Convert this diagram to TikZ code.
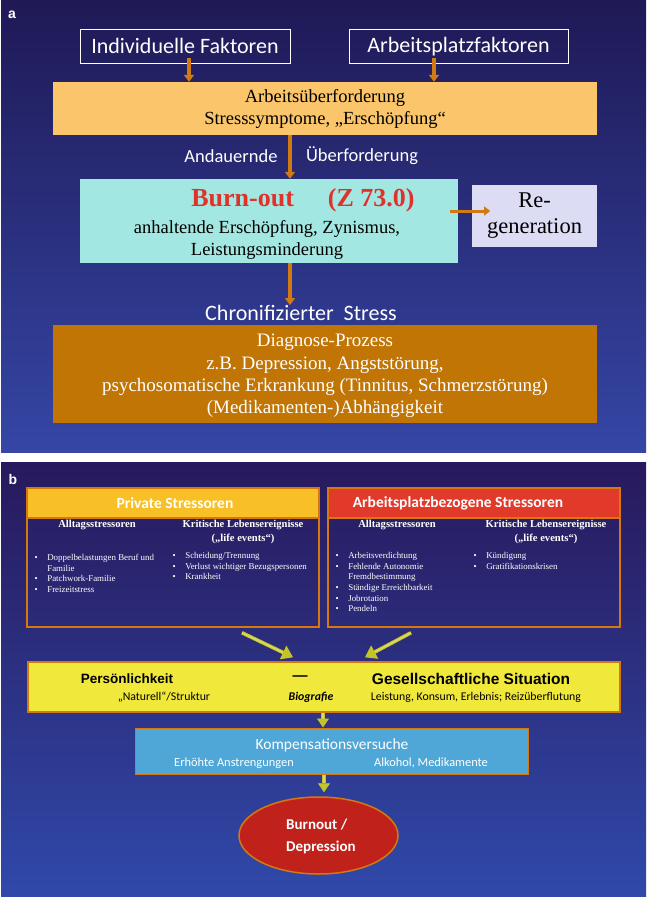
\documentclass[tikz,border=0pt]{standalone}
\usepackage{fontspec}
\setmainfont{Liberation Serif}
\newfontfamily\carl{Carlito}
\newfontfamily\arl{Liberation Sans}
\usetikzlibrary{arrows.meta,shapes.geometric}
\definecolor{bgAtop}{HTML}{1F1956}
\definecolor{bgAmid}{HTML}{2E32A0}
\definecolor{bgAbot}{HTML}{3546A5}
\definecolor{bgBtop}{HTML}{28195C}
\definecolor{bgBmid}{HTML}{3035A2}
\definecolor{bgBbot}{HTML}{3049AA}
\definecolor{orBox}{HTML}{FAC56B}
\definecolor{cyanBox}{HTML}{A2E7E1}
\definecolor{regenBox}{HTML}{DCDCF5}
\definecolor{brownBox}{HTML}{C07505}
\definecolor{arrOr}{HTML}{D27A12}
\definecolor{burnRed}{HTML}{E0322B}
\definecolor{privY}{HTML}{F8BF27}
\definecolor{arbR}{HTML}{E13A2B}
\definecolor{bordOr}{HTML}{D4780F}
\definecolor{persY}{HTML}{F0E83A}
\definecolor{kompB}{HTML}{4FA7D8}
\definecolor{ellR}{HTML}{C0221B}
\definecolor{arrYe}{HTML}{C4C428}
\definecolor{arrYeL}{HTML}{DADA60}
\begin{document}
\begin{tikzpicture}[x=1pt,y=-1pt,
  lbl/.style={inner sep=0pt, text=white},
  blk/.style={inner sep=0pt, text=black},
  abox/.style={draw=white, line width=1pt, inner sep=0pt, text=white, font=\carl\fontsize{22}{26}\selectfont},
  oarrow/.style={draw=arrOr, line width=3.5pt, -{Triangle[length=7pt,width=10pt]}},
  oarrowsm/.style={draw=arrOr, line width=3pt, -{Triangle[length=6pt,width=9pt]}},
  yarrow/.style={draw=arrYe, double=arrYeL, double distance=1.6pt, line width=1pt, -{Triangle[length=11pt,width=15pt,fill=arrYe]}},
  yarrowsm/.style={draw=arrYe, double=arrYeL, double distance=1.4pt, line width=0.9pt, -{Triangle[length=9pt,width=12pt,fill=arrYe]}},
  obord/.style={draw=bordOr, line width=1.5pt},
  colhead/.style={lbl, align=center, font=\bfseries\fontsize{10.6}{14}\selectfont},
  blist/.style={lbl, anchor=north west, font=\fontsize{8.9}{10.6}\selectfont},
]
\useasboundingbox (0,0) rectangle (648,897);
\fill[white] (0,0) rectangle (648,897);
\shade[top color=bgAtop, middle color=bgAmid, bottom color=bgAbot] (1,0) rectangle (646,452);
\shade[top color=bgBtop, middle color=bgBmid, bottom color=bgBbot] (1,462) rectangle (646,897);

% ---------- panel a ----------
\node[lbl, font=\arl\bfseries\fontsize{14}{16}\selectfont] (la) at (12,15) {a};
\node[abox, minimum width=210pt, minimum height=34pt] (indiv) at (185,46) {Individuelle Faktoren};
\node[abox, minimum width=219pt, minimum height=34pt] (arbeit) at (458.5,46.5) {Arbeitsplatzfaktoren};
\node[fill=orBox, minimum width=544pt, minimum height=53pt, inner sep=0pt, align=center,
      font=\fontsize{18.5}{22}\selectfont] (ueber) at (325,108.5)
      {Arbeitsüberforderung\\Stresssymptome, „Erschöpfung“};
\draw[oarrow] ([xshift=4pt,yshift=6pt]indiv.south) -- ([xshift=-136pt]ueber.north);
\draw[oarrow] ([xshift=-24.5pt,yshift=6pt]arbeit.south) -- ([xshift=109pt]ueber.north);

\node[lbl, font=\carl\fontsize{18.5}{22}\selectfont] (and) at (231,156) {Andauernde};
\node[lbl, font=\carl\fontsize{18.5}{22}\selectfont] (ueb) at (362,156) {Überforderung};

\node[fill=cyanBox, minimum width=378pt, minimum height=84pt, inner sep=0pt] (burn) at (269,221) {};
\node[inner sep=0pt, text=burnRed, font=\bfseries\fontsize{26}{30}\selectfont] (bt) at (303,200) {Burn-out\hspace{34pt}(Z 73.0)};
\node[blk, align=center, font=\fontsize{18.5}{22}\selectfont] (bd) at (267,240) {anhaltende Erschöpfung, Zynismus,\\Leistungsminderung};
\draw[oarrow] ([xshift=-35pt]ueber.south) -- ([xshift=21pt]burn.north);

\node[fill=regenBox, minimum width=125pt, minimum height=62pt, inner sep=0pt, align=center,
      font=\fontsize{22.5}{26}\selectfont] (regen) at (534.5,215.5) {Re-\\generation};
\draw[oarrowsm] ([xshift=-8pt,yshift=10pt]burn.east) -- ++(40,0);

\node[lbl, font=\carl\fontsize{22}{26}\selectfont] (chron) at (301,313) {Chronifizierter\ \ Stress};
\draw[oarrow] ([xshift=21pt]burn.south) -- ([xshift=-11pt]chron.north);

\node[fill=brownBox, minimum width=544pt, minimum height=98pt, inner sep=0pt] (diag) at (325,374) {};
\node[lbl, align=center, font=\fontsize{19}{22.3}\selectfont] (diagT) at (325,376)
      {Diagnose-Prozess\\z.B. Depression, Angststörung,\\psychosomatische Erkrankung (Tinnitus, Schmerzstörung)\\(Medikamenten-)Abhängigkeit};

% ---------- panel b ----------
\node[lbl, font=\arl\bfseries\fontsize{14}{16}\selectfont] (lb) at (13,479) {b};

\node[obord, minimum width=292pt, minimum height=139pt, inner sep=0pt] (priv) at (173,557.5) {};
\node[obord, fill=privY, minimum width=292pt, minimum height=30pt, inner sep=0pt] (privH) at (173,503) {};
\node[lbl, font=\carl\bfseries\fontsize{15.5}{18}\selectfont] (privT) at (175,503) {Private Stressoren};
\node[colhead] (pA) at (97,525) {Alltagsstressoren};
\node[colhead] (pK) at (243,532) {Kritische Lebensereignisse\\(„life events“)};
\node[blist] (pl) at (34.5,553) {\begin{tabular}{@{}l@{\hspace{9.5pt}}l@{}}
  \textbullet & Doppelbelastungen Beruf und\\ & Familie\\ \textbullet & Patchwork-Familie\\ \textbullet & Freizeitstress\end{tabular}};
\node[blist] (pr) at (172.5,551) {\begin{tabular}{@{}l@{\hspace{9.5pt}}l@{}}
  \textbullet & Scheidung/Trennung\\ \textbullet & Verlust wichtiger Bezugspersonen\\ \textbullet & Krankheit\end{tabular}};

\node[obord, minimum width=292pt, minimum height=139pt, inner sep=0pt] (arb) at (474,557.5) {};
\node[obord, fill=arbR, minimum width=292pt, minimum height=30pt, inner sep=0pt] (arbH) at (474,503) {};
\node[lbl, font=\carl\bfseries\fontsize{15.5}{18}\selectfont] (arbT) at (458,503) {Arbeitsplatzbezogene Stressoren};
\node[colhead] (aA) at (397,525) {Alltagsstressoren};
\node[colhead] (aK) at (546,532) {Kritische Lebensereignisse\\(„life events“)};
\node[blist] (al) at (335.5,551) {\begin{tabular}{@{}l@{\hspace{9.5pt}}l@{}}
  \textbullet & Arbeitsverdichtung\\ \textbullet & Fehlende Autonomie\\ & Fremdbestimmung\\ \textbullet & Ständige Erreichbarkeit\\ \textbullet & Jobrotation\\ \textbullet & Pendeln\end{tabular}};
\node[blist] (ar) at (473.5,551) {\begin{tabular}{@{}l@{\hspace{9.5pt}}l@{}}
  \textbullet & Kündigung\\ \textbullet & Gratifikationskrisen\end{tabular}};

\node[obord, fill=persY, minimum width=592pt, minimum height=50pt, inner sep=0pt] (pers) at (324,687) {};
\draw[yarrow] ([xshift=69pt,yshift=-5pt]priv.south) -- ([xshift=-31pt,yshift=4pt]pers.north);
\draw[yarrow] ([xshift=-63pt,yshift=-5pt]arb.south) -- ([xshift=41pt,yshift=4pt]pers.north);

\node[blk, font=\arl\bfseries\fontsize{13.5}{16}\selectfont] (persT) at (127,679) {Persönlichkeit};
\node[blk, font=\arl\bfseries\fontsize{15}{16}\selectfont] (dash) at (300,678) {—};
\node[blk, font=\arl\bfseries\fontsize{15.5}{18}\selectfont] (gesT) at (471,679) {Gesellschaftliche Situation};
\node[blk, font=\carl\fontsize{11.8}{14}\selectfont] (nat) at (164,697) {„Naturell“/Struktur};
\node[blk, font=\carl\bfseries\itshape\fontsize{11.8}{14}\selectfont] (bio) at (311,697) {Biografie};
\node[blk, font=\carl\fontsize{11.8}{14}\selectfont] (leist) at (476,697) {Leistung, Konsum, Erlebnis; Reizüberflutung};

\node[draw=bordOr, line width=1pt, fill=kompB, minimum width=393pt, minimum height=46pt, inner sep=0pt] (komp) at (331.5,751) {};
\node[lbl, font=\carl\fontsize{15.5}{18}\selectfont] (kompT) at (332,745) {Kompensationsversuche};
\node[lbl, font=\carl\fontsize{12.4}{14}\selectfont] (erh) at (234,763) {Erhöhte Anstrengungen};
\node[lbl, font=\carl\fontsize{12.4}{14}\selectfont] (alk) at (431,763) {Alkohol, Medikamente};
\draw[yarrowsm] ([xshift=-1pt]pers.south) -- ([xshift=-8.5pt]komp.north);

\node[ellipse, obord, fill=ellR, minimum width=159pt, minimum height=77pt, inner sep=0pt] (bo) at (318.5,835.5) {};
\node[lbl, align=left, font=\carl\bfseries\fontsize{15}{22}\selectfont] (boT) at (321,836) {Burnout /\\Depression};
\draw[yarrowsm] ([xshift=-7.5pt]komp.south) -- ([xshift=5.5pt,yshift=4pt]bo.north);
\end{tikzpicture}
\end{document}
